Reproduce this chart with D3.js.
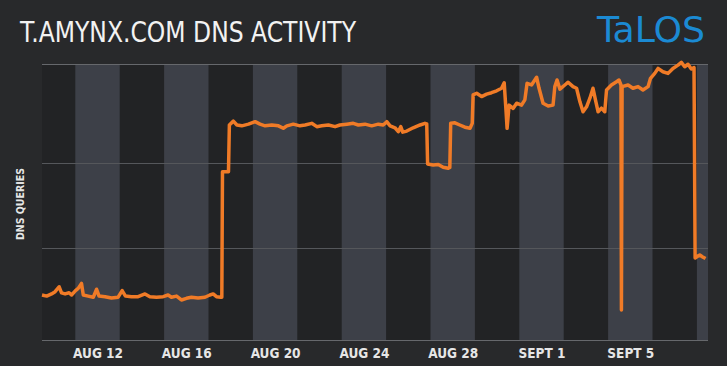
<!DOCTYPE html>
<head>
<meta charset="utf-8">
<script src="https://d3js.org/d3.v7.min.js"></script>
<style>
  body{ margin:0; background:#28292b; }
  svg{ display:block; }
  text{ font-family: "Liberation Sans Narrow", "DejaVu Sans Condensed", Roboto, sans-serif; }
  text.title{ font-size:28px; fill:#f2f2f2; }
  text.logo{ font-size:36px; fill:#1b8ad3; }
  text.yLabel{ font-size:10.5px; font-weight:700; fill:#e6e6e6; }
  .xAxis text{ font-size:13.5px; font-weight:700; fill:#e6e6e6; }
  .xAxis path.domain{ display:none; }
  .grid line{ stroke:#55575b; stroke-width:1; shape-rendering:crispEdges; }
</style>
</head>
<body>
<script>
const width = 727;
const height = 366;

// day number: 1.0 = Aug 1 00:00, 32.0 = Sept 1 00:00 (2017)
const days = [
  9.50, 9.71, 9.93, 10.09, 10.27, 10.38, 10.54, 10.72, 10.83, 11.01,
  11.13, 11.28, 11.36, 11.58, 11.81, 11.96, 12.07, 12.34, 12.63, 12.93,
  13.11, 13.26, 13.53, 13.83, 14.14, 14.36, 14.66, 14.96, 15.18, 15.33,
  15.56, 15.78, 16.01, 16.23, 16.53, 16.84, 17.06, 17.21, 17.36, 17.56,
  17.60, 17.63, 17.90, 17.94, 18.12, 18.28, 18.50, 18.80, 19.10, 19.32,
  19.55, 19.85, 20.15, 20.37, 20.53, 20.82, 21.12, 21.35, 21.65, 21.88,
  22.10, 22.40, 22.70, 22.92, 23.23, 23.52, 23.75, 24.05, 24.35, 24.65,
  24.87, 25.03, 25.18, 25.40, 25.55, 25.66, 25.75, 25.93, 26.22, 26.53,
  26.75, 26.83, 26.87, 27.12, 27.35, 27.57, 27.80, 27.87, 27.91, 28.10,
  28.32, 28.55, 28.78, 28.88, 28.92, 29.08, 29.30, 29.53, 29.75, 29.98,
  30.20, 30.32, 30.40, 30.45, 30.54, 30.72, 30.88, 31.10, 31.25, 31.35,
  31.55, 31.78, 31.89, 32.07, 32.30, 32.52, 32.60, 32.70, 32.83, 33.05,
  33.20, 33.42, 33.58, 33.73, 33.87, 34.03, 34.18, 34.32, 34.45, 34.55,
  34.70, 34.85, 34.93, 35.15, 35.38, 35.49, 35.58, 35.60, 35.63, 35.90,
  36.12, 36.35, 36.57, 36.80, 36.91, 37.10, 37.25, 37.47, 37.70, 37.92,
  38.15, 38.30, 38.45, 38.60, 38.75, 38.87, 38.92, 39.04, 39.13, 39.26,
  39.39
];

// relative DNS query volume
const queries = [
  16.3, 15.9, 16.7, 17.5, 19.3, 17.1, 16.7, 17.1, 16.3, 17.9,
  18.7, 20.5, 16.3, 15.9, 15.5, 18.4, 15.9, 15.7, 15.2, 15.5,
  17.9, 15.9, 15.7, 15.7, 16.7, 15.7, 15.5, 15.7, 16.3, 15.5,
  15.9, 14.5, 15.1, 15.5, 15.2, 15.5, 16.3, 16.7, 15.7, 15.5,
  15.5, 61.0, 61.0, 77.9, 79.3, 77.9, 77.6, 78.2, 79.1, 78.2,
  77.6, 77.9, 77.6, 76.7, 77.6, 78.2, 77.6, 77.9, 78.5, 77.3,
  77.6, 77.9, 77.3, 77.9, 78.2, 78.5, 77.9, 78.2, 77.6, 78.2,
  77.9, 79.1, 77.6, 76.9, 75.5, 77.3, 75.3, 75.7, 76.9, 77.9,
  78.5, 78.3, 63.8, 63.4, 63.6, 62.6, 62.2, 62.5, 78.5, 78.7,
  77.9, 77.1, 76.7, 78.5, 88.8, 89.4, 88.2, 89.1, 89.6, 90.3,
  91.2, 93.2, 83.3, 76.7, 85.1, 83.9, 85.8, 85.1, 87.0, 93.0,
  92.4, 95.2, 91.2, 85.8, 84.8, 85.1, 91.8, 94.2, 90.9, 92.4,
  93.4, 91.8, 91.2, 86.3, 82.7, 84.5, 87.6, 91.2, 86.3, 82.7,
  84.0, 82.7, 90.6, 92.4, 93.6, 94.2, 92.4, 10.9, 91.8, 92.4,
  91.2, 91.8, 90.6, 91.8, 94.8, 96.6, 98.4, 97.2, 96.6, 98.4,
  99.6, 100.6, 99.0, 99.9, 98.2, 98.7, 29.7, 30.4, 30.8, 30.1,
  29.5
];

const tickDays = [12, 16, 20, 24, 28, 32, 36];
const tickLabels = ["AUG 12", "AUG 16", "AUG 20", "AUG 24", "AUG 28", "SEPT 1", "SEPT 5"];
const gridValues = [33.3, 64.1];

const title = "T.AMYNX.COM DNS ACTIVITY";
const yTitle = "DNS QUERIES";

const aug1 = new Date(2017, 7, 1);
const toDate = d => new Date(aug1.getTime() + (d - 1) * 864e5);

const margin = {top: 64, right: 19, bottom: 26, left: 42};

const svg = d3.select("body").append("svg")
  .attr("width", width)
  .attr("height", height);

svg.append("rect").attr("width", width).attr("height", height).attr("fill", "#28292b");

const x = d3.scaleTime()
  .domain([toDate(9.5), toDate(39.5)])
  .range([margin.left, width - margin.right]);

const y = d3.scaleLinear()
  .domain([0, 100])
  .range([height - margin.bottom, margin.top]);

// plot background
svg.append("rect")
  .attr("x", x.range()[0])
  .attr("y", y(100))
  .attr("width", x.range()[1] - x.range()[0])
  .attr("height", y(0) - y(100))
  .attr("fill", "#222325");

// shaded 2-day bands every 4 days
const bands = d3.range(11, 40, 4).map(d => [toDate(d), d3.min([toDate(d + 2), x.domain()[1]])]);
svg.append("g").selectAll("rect")
  .data(bands)
  .join("rect")
  .attr("x", d => x(d[0]))
  .attr("width", d => x(d[1]) - x(d[0]))
  .attr("y", y(100))
  .attr("height", y(0) - y(100))
  .attr("fill", "#3d4048");

// grid
const grid = svg.append("g").attr("class", "grid");
grid.selectAll("line")
  .data([0, ...gridValues, 100])
  .join("line")
  .attr("x1", x.range()[0])
  .attr("x2", x.range()[1])
  .attr("y1", d => y(d))
  .attr("y2", d => y(d))
  .style("stroke", d => (d == 0 || d == 100) ? "#66686c" : "#55575b");

// x axis labels
const xAxis = d3.axisBottom(x)
  .tickValues(tickDays.map(toDate))
  .tickFormat((d, i) => tickLabels[i])
  .tickSize(0)
  .tickPadding(8);

svg.append("g")
  .attr("class", "xAxis")
  .attr("transform", `translate(0, ${y(0)})`)
  .call(xAxis);

// line
const line = d3.line()
  .x((d, i) => x(toDate(days[i])))
  .y(d => y(d));

svg.append("path")
  .datum(queries)
  .attr("d", line)
  .attr("fill", "none")
  .attr("stroke", "#f07b27")
  .attr("stroke-width", 3.5)
  .attr("stroke-linejoin", "round");

// titles
svg.append("text")
  .attr("class", "title")
  .attr("x", 20)
  .attr("y", 42)
  .attr("textLength", 336)
  .attr("lengthAdjust", "spacingAndGlyphs")
  .text(title);

svg.append("text")
  .attr("class", "logo")
  .attr("x", 597)
  .attr("y", 42)
  .attr("textLength", 108)
  .attr("lengthAdjust", "spacingAndGlyphs")
  .text("TaLOS");

svg.append("text")
  .attr("class", "yLabel")
  .attr("transform", `translate(24, ${(y(0) + y(100)) / 2 + 2}) rotate(-90)`)
  .attr("text-anchor", "middle")
  .text(yTitle);
</script>
</body>
